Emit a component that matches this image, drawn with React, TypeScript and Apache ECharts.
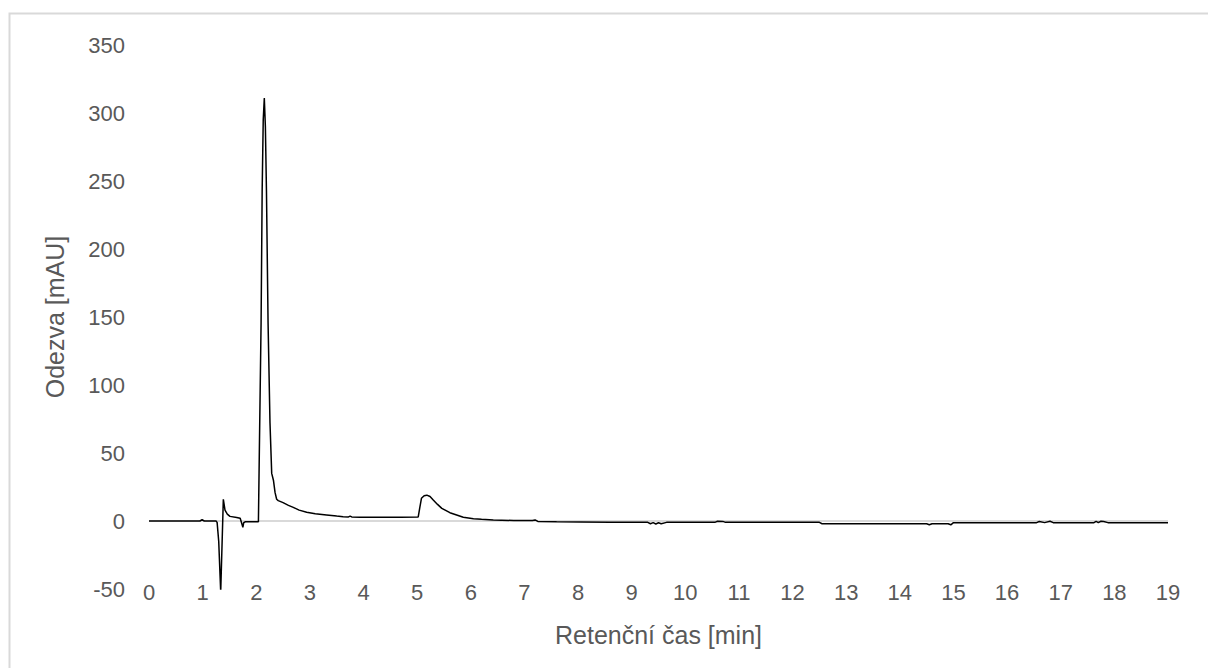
import React, { useEffect, useRef } from "react";
import * as echarts from "echarts";

// Chromatogram trace: retention time [min] and detector response [mAU]
const retentionTimes: number[] = [
  0, 0.95, 0.99, 1.03, 1.25, 1.27, 1.3, 1.337, 1.386, 1.417, 1.46, 1.51, 1.635,
  1.7, 1.72, 1.75, 1.765, 1.8, 1.9, 2.04, 2.056, 2.09, 2.11, 2.13, 2.15, 2.17,
  2.19, 2.22, 2.256, 2.288, 2.32, 2.35, 2.38, 2.41, 2.5, 2.6, 2.69, 2.8, 2.94,
  3.1, 3.31, 3.5, 3.62, 3.72, 3.75, 3.78, 3.93, 4.3, 4.7, 5.02, 5.05, 5.08, 5.13,
  5.18, 5.24, 5.3, 5.38, 5.46, 5.61, 5.75, 5.86, 6.05, 6.2, 6.42, 6.8, 7.15,
  7.2, 7.25, 7.6, 8.04, 8.6, 9.3, 9.35, 9.4, 9.45, 9.5, 9.55, 9.65, 10.0, 10.55,
  10.6, 10.7, 10.75, 11.5, 12.5, 12.55, 13.5, 14.5, 14.55, 14.6, 14.9, 14.95,
  15.0, 15.5, 16.5, 16.55, 16.6, 16.7, 16.8, 16.86, 17.3, 17.62, 17.66, 17.7,
  17.75, 17.8, 17.88, 18.5, 19.0,
];

const responses: number[] = [
  0, 0, 1, 0, 0, -1, -15, -52, 16, 8, 5.1, 3.4, 2.6,
  2, -0.5, -4.6, -1.3, -0.5, -0.5, -0.5, 47, 146, 243, 295, 311, 290,
  243, 146, 72, 35, 30, 21, 16, 15, 13.5, 11.5, 10, 8, 6.4,
  5.3, 4.4, 3.6, 3.2, 3.0, 3.6, 3.0, 2.8, 2.8, 2.8, 3, 10, 16.7, 18.6,
  19, 18, 15.4, 12.2, 9.3, 6.1, 4.2, 2.7, 1.7, 1.2, 0.7, 0.4, 0.3,
  0.8, -0.3, -0.5, -0.7, -0.9, -1, -2, -1.2, -2.2, -1.3, -2, -1, -1, -1,
  -0.2, -0.3, -1, -1, -1, -2, -2, -2, -2.8, -2, -2, -2.8,
  -1.2, -1.2, -1.2, -1.2, -0.4, -1.2, -0.2, -1.2, -1.2, -1.2, -0.3, -1.2,
  -0.2, -0.4, -1.2, -1.2, -1.2,
];

const xTickMin = 0;
const xTickMax = 19;
const yTickMin = -50;
const yTickMax = 350;
const yTickStep = 50;

const xTitle = "Retenční čas [min]";
const yTitle = "Odezva [mAU]";

const textColor = "#595959";
const fontFamily = "'Liberation Sans', Arial, sans-serif";

export default function App() {
  const ref = useRef<HTMLDivElement>(null);

  useEffect(() => {
    if (!ref.current) return;
    const chart = echarts.init(ref.current, undefined, { renderer: "svg" });
    const points = retentionTimes.map((t, i) => [t, responses[i]]);

    chart.setOption({
      animation: false,
      backgroundColor: "#ffffff",
      textStyle: { fontFamily },
      graphic: [
        {
          type: "rect",
          left: 7,
          top: 11,
          silent: true,
          shape: { width: 1300, height: 800 },
          style: { fill: "none", stroke: "#d9d9d9", lineWidth: 2 },
        },
      ],
      grid: { left: 149, right: 40, top: 45, bottom: 79 },
      xAxis: {
        type: "value",
        min: xTickMin,
        max: xTickMax,
        interval: 1,
        axisLine: { show: false, onZero: false },
        axisTick: { show: false },
        splitLine: { show: false },
        axisLabel: {
          color: textColor,
          fontSize: 22,
          fontFamily,
          verticalAlign: "middle",
          margin: 3,
        },
        name: xTitle,
        nameLocation: "middle",
        nameGap: 33,
        nameTextStyle: { color: textColor, fontSize: 25, fontFamily },
      },
      yAxis: {
        type: "value",
        min: yTickMin,
        max: yTickMax,
        interval: yTickStep,
        axisLine: { show: false },
        axisTick: { show: false },
        splitLine: { show: false },
        axisLabel: { color: textColor, fontSize: 22, fontFamily, margin: 24 },
        name: yTitle,
        nameLocation: "middle",
        nameGap: 82,
        nameTextStyle: { color: textColor, fontSize: 25, fontFamily },
      },
      series: [
        {
          type: "line",
          data: points,
          showSymbol: false,
          silent: true,
          lineStyle: { color: "#000000", width: 1.5 },
          z: 3,
          markLine: {
            silent: true,
            symbol: "none",
            label: { show: false },
            lineStyle: { color: "#d9d9d9", width: 2, type: "solid" },
            data: [{ yAxis: 0 }],
            z: 1,
          },
        },
      ],
    });

    return () => chart.dispose();
  }, []);

  return (
    <div
      ref={ref}
      style={{ position: "fixed", left: 0, top: 0, width: 1208, height: 668 }}
    />
  );
}
